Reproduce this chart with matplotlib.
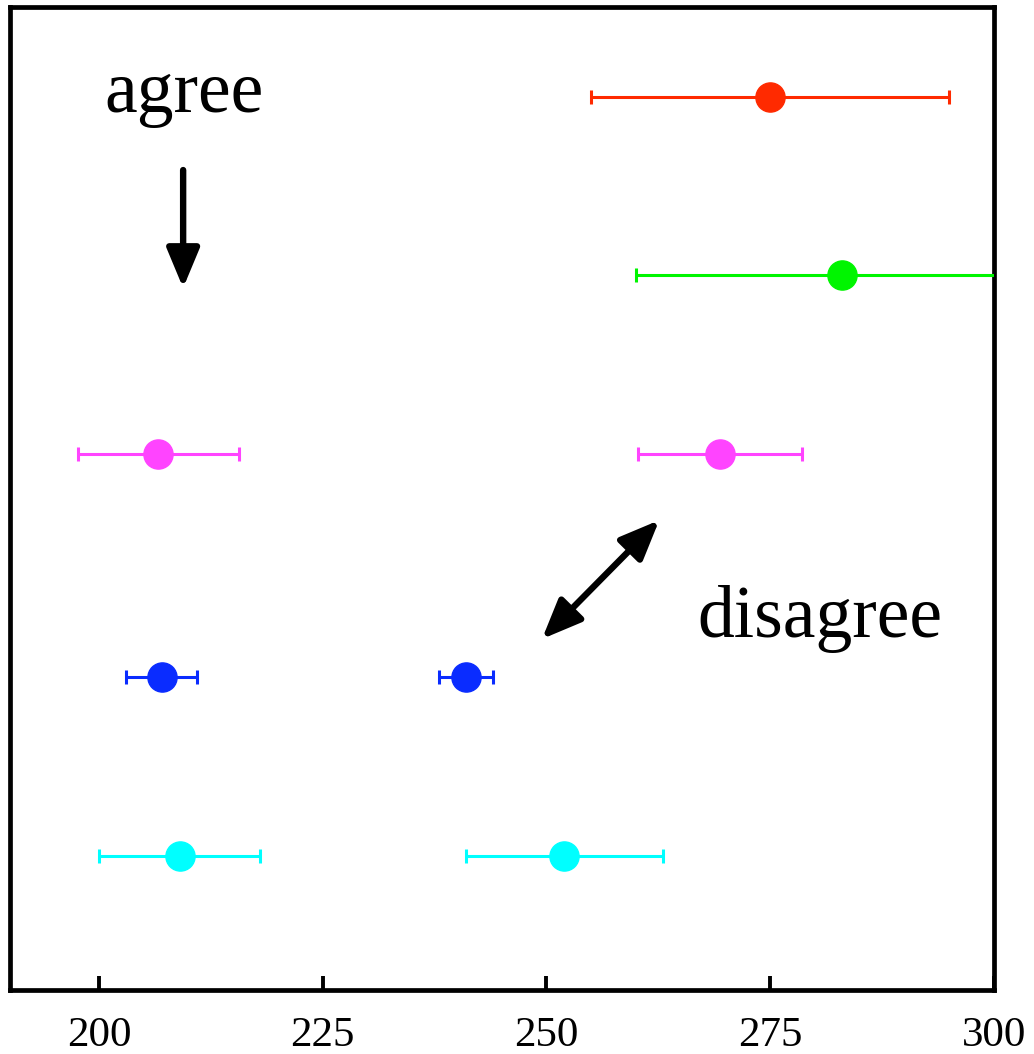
import matplotlib
matplotlib.use("Agg")
import matplotlib.pyplot as plt

plt.rcParams["font.family"] = ["Liberation Serif", "DejaVu Serif"]

# Row positions (bottom to top) and the measured values with symmetric errors
rows_y = [5.0, 4.0, 3.0, 1.75, 0.75]
colors = ["#FF2A00", "#00F500", "#FF44FF", "#0A2CFF", "#00FFFF"]

# Each row: central values and their errors
row_values = [
    [275.0],
    [283.0],
    [206.6, 269.4],
    [207.0, 241.0],
    [209.0, 252.0],
]
row_errors = [
    [20.0],
    [23.0],
    [9.0, 9.2],
    [4.0, 3.0],
    [9.0, 11.0],
]

x_ticks = [200, 225, 250, 275, 300]

fig = plt.figure(figsize=(10.34, 10.54), dpi=100)
ax = fig.add_axes([0.0092, 0.0607, 0.9521, 0.9322])

for y, vals, errs, c in zip(rows_y, row_values, row_errors, colors):
    ax.errorbar(vals, [y] * len(vals), xerr=errs, fmt="o", color=c,
                markersize=21, elinewidth=2.2, capsize=5, capthick=2.2,
                clip_on=True, zorder=3)

ax.set_xlim(190, 300)
ax.set_ylim(0, 5.5)
ax.set_xticks(x_ticks)
ax.set_xticklabels([str(t) for t in x_ticks])
ax.set_yticks([])
ax.tick_params(axis="x", direction="in", length=10, width=2.8,
               labelsize=31, pad=19, top=False)
for sp in ax.spines.values():
    sp.set_linewidth(3.4)

ax.text(209.45, 4.916, "agree", fontsize=53, ha="center", va="baseline")
ax.text(280.6, 1.977, "disagree", fontsize=53, ha="center", va="baseline")

ax.annotate("", xy=(209.4, 3.93), xytext=(209.4, 4.59),
            arrowprops=dict(arrowstyle="-|>,head_length=1.2,head_width=0.5",
                            mutation_scale=20, lw=4.6, color="black",
                            shrinkA=0, shrinkB=0))
ax.annotate("", xy=(262.6, 2.63), xytext=(249.5, 1.965),
            arrowprops=dict(arrowstyle="<|-|>,head_length=1.2,head_width=0.5",
                            mutation_scale=20, lw=4.6, color="black",
                            shrinkA=0, shrinkB=0))

fig.savefig("out.png", dpi=100)
